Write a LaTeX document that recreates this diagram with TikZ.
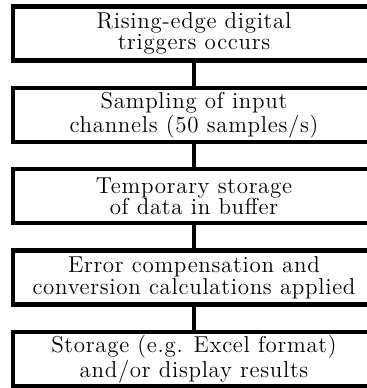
\documentclass[tikz,border=0pt]{standalone}
\usepackage{fontspec}
\setmainfont{Latin Modern Roman}[LetterSpace=3]
\begin{document}
\begin{tikzpicture}[line width=2.2pt,
    stage/.style={draw=black, shape=rectangle, minimum width=6.36cm, minimum height=0.95cm, inner sep=0pt, align=center, font=\fontsize{11.5}{10.8}\selectfont}
]
% --- Rahmen des Bildes ---
\useasboundingbox (0,0) rectangle (6.45,-6.82);
% --- Ablaufschritte ---
\node[stage] (trigger)  at (3.41,-0.59) {Rising-edge digital\\triggers occurs};
\node[stage] (sampling) at (3.41,-2.02) {Sampling of input\\channels (50 samples/s)};
\node[stage] (buffer)   at (3.41,-3.45) {Temporary storage\\of data in buffer};
\node[stage] (convert)  at (3.41,-4.88) {Error compensation and\\conversion calculations applied};
\node[stage] (store)    at (3.41,-6.31) {Storage (e.g. Excel format)\\and/or display results};
% --- Verbindungslinien ---
\draw (trigger) -- (sampling);
\draw (sampling) -- (buffer);
\draw (buffer) -- (convert);
\draw (convert) -- (store);
\end{tikzpicture}
\end{document}
